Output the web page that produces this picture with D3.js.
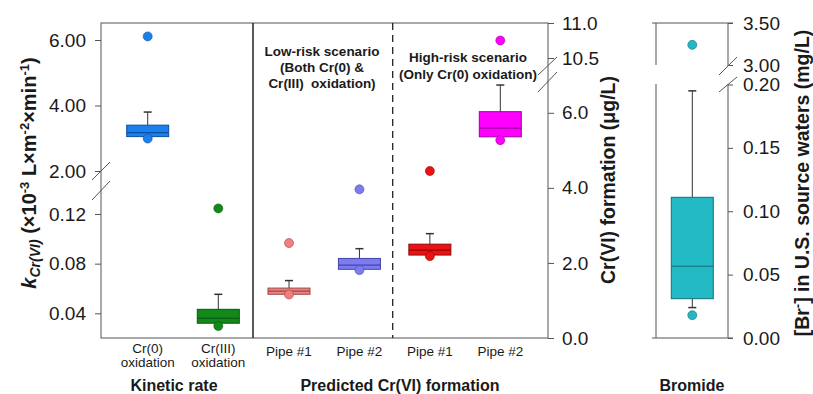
<!DOCTYPE html>
<html>
<head>
<meta charset="utf-8">
<script src="https://cdn.jsdelivr.net/npm/d3@7"></script>
<style>
  body { margin: 0; background: #fff; }
  svg text { font-family: "Liberation Sans", Arial, sans-serif; fill: #1a1a1a; }
</style>
</head>
<body>
<div id="chart"></div>
<script>
// kinetic rate panel (x10^-3 L m^-2 min^-1)
var kinCats = ["Cr(0) oxidation", "Cr(III) oxidation"];
var kinLabels = [["Cr(0)", "oxidation"], ["Cr(III)", "oxidation"]];
var kinWhiskLo = [3.05, 0.032];
var kinQ1 = [3.05, 0.032];
var kinMed = [3.17, 0.036];
var kinQ3 = [3.40, 0.0432];
var kinWhiskHi = [3.80, 0.0553];
var kinOutliers = [[6.11, 2.99], [0.1245, 0.0298]];

// predicted Cr(VI) formation panel (ug/L)
var pipeCats = ["low1", "low2", "high1", "high2"];
var pipeLabels = ["Pipe #1", "Pipe #2", "Pipe #1", "Pipe #2"];
var pipeWhiskLo = [1.165, 1.83, 2.21, 5.36];
var pipeQ1 = [1.165, 1.83, 2.21, 5.36];
var pipeMed = [1.25, 1.94, 2.34, 5.59];
var pipeQ3 = [1.33, 2.12, 2.50, 6.03];
var pipeWhiskHi = [1.53, 2.38, 2.78, 6.74];
var pipeOutliers = [[2.53, 1.16], [3.96, 1.81], [4.45, 2.18], [10.75, 5.27]];

// bromide panel (mg/L)
var brWhiskLo = [0.024];
var brQ1 = [0.031];
var brMed = [0.0566];
var brQ3 = [0.111];
var brWhiskHi = [0.195];
var brOutliers = [[3.24, 0.018]];

// tick labels
var kinTicksHi = [2, 4, 6], kinTicksLo = [0.04, 0.08, 0.12];
var pipeTicksLo = [0, 2, 4, 6], pipeTicksHi = [10.5, 11];
var brTicksLo = [0, 0.05, 0.10, 0.15, 0.20], brTicksHi = [3.0, 3.5];

var kinFill = ["#1a80ee", "#128a1a"], kinStroke = ["#0e4f9c", "#0a5210"];
var pipeFill = ["#f08080", "#7c7cf0", "#ee1111", "#ff00ff"];
var pipeStroke = ["#9c4848", "#4444a8", "#8c0a0a", "#a000a0"];
var brFill = ["#22b9c4"], brStroke = ["#146f78"];

function init(){
    var w = 813, h = 394;
    var top = 23, bottom = 338;
    var boxW = 42, capW = 8, r = 4.5;

    var svg = d3.select("#chart").append("svg")
        .attr("width", w).attr("height", h);

    // broken y scales: each panel has an upper and a lower piece
    var yKhi = d3.scaleLinear().domain([2, 6]).range([171, 40]);
    var yKlo = d3.scaleLinear().domain([0.04, 0.12]).range([313.3, 214]);
    var yK = function(v){ return v >= 1 ? yKhi(v) : yKlo(v); };

    var yPlo = d3.scaleLinear().domain([0, 6]).range([bottom, 112.8]);
    var yPhi = d3.scaleLinear().domain([10.5, 11]).range([58, top]);
    var yP = function(v){ return v > 8 ? yPhi(v) : yPlo(v); };

    var yBlo = d3.scaleLinear().domain([0, 0.2]).range([bottom, 84.5]);
    var yBhi = d3.scaleLinear().domain([3, 3.5]).range([65, top]);
    var yB = function(v){ return v > 1 ? yBhi(v) : yBlo(v); };

    var xK = d3.scalePoint().domain(kinCats).range([147.7, 218.3]);
    var xP = d3.scalePoint().domain(pipeCats).range([289, 500.3]);
    var xB = d3.scalePoint().domain(["Bromide"]).range([692.3, 692.3]);

    // frames
    svg.append("rect").attr("x", 101).attr("y", top)
        .attr("width", 548 - 101).attr("height", bottom - top)
        .attr("fill", "none").attr("stroke", "#555").attr("stroke-width", 1);
    svg.append("line").attr("x1", 253).attr("x2", 253).attr("y1", top).attr("y2", bottom)
        .attr("stroke", "#222").attr("stroke-width", 1.5);
    svg.append("line").attr("x1", 392.7).attr("x2", 392.7).attr("y1", top).attr("y2", bottom)
        .attr("stroke", "#222").attr("stroke-width", 1.3).attr("stroke-dasharray", "7,5");

    // bromide frame (gap at the break)
    var brFrame = [[652, top, 733, top], [652, bottom, 733, bottom],
                   [656, top, 656, 65], [656, 84, 656, bottom],
                   [728, top, 728, 66], [728, 84, 728, bottom]];
    svg.selectAll(".brframe").data(brFrame).enter().append("line")
        .attr("x1", function(d){ return d[0]; }).attr("y1", function(d){ return d[1]; })
        .attr("x2", function(d){ return d[2]; }).attr("y2", function(d){ return d[3]; })
        .attr("stroke", "#555").attr("stroke-width", 1);

    // axes
    function styleAxis(g){
        g.select(".domain").remove();
        g.selectAll(".tick line").attr("stroke", "#555");
        g.selectAll(".tick text").style("font-size", "19px").attr("fill", "#1a1a1a");
    }
    var f2 = d3.format(".2f"), f1 = d3.format(".1f");
    svg.append("g").attr("transform", "translate(101,0)")
        .call(d3.axisLeft(yKhi).tickValues(kinTicksHi).tickFormat(f2).tickSize(6).tickPadding(9)).call(styleAxis);
    svg.append("g").attr("transform", "translate(101,0)")
        .call(d3.axisLeft(yKlo).tickValues(kinTicksLo).tickFormat(f2).tickSize(6).tickPadding(9)).call(styleAxis);
    svg.append("g").attr("transform", "translate(548,0)")
        .call(d3.axisRight(yPlo).tickValues(pipeTicksLo).tickFormat(f1).tickSize(6).tickPadding(8)).call(styleAxis);
    svg.append("g").attr("transform", "translate(548,0)")
        .call(d3.axisRight(yPhi).tickValues(pipeTicksHi).tickFormat(f1).tickSize(6).tickPadding(8)).call(styleAxis);
    svg.append("g").attr("transform", "translate(728,0)")
        .call(d3.axisRight(yBlo).tickValues(brTicksLo).tickFormat(f2).tickSize(5).tickPadding(10)).call(styleAxis);
    svg.append("g").attr("transform", "translate(728,0)")
        .call(d3.axisRight(yBhi).tickValues(brTicksHi).tickFormat(f2).tickSize(5).tickPadding(10)).call(styleAxis);

    // break marks
    var slashes = [[92, 180, 110, 162], [92, 200, 110, 181],
                   [538, 75, 557, 57], [538, 92, 557, 72],
                   [719, 75, 737, 57], [719, 92, 737, 77]];
    svg.selectAll(".slash").data(slashes).enter().append("line")
        .attr("x1", function(d){ return d[0]; }).attr("y1", function(d){ return d[1]; })
        .attr("x2", function(d){ return d[2]; }).attr("y2", function(d){ return d[3]; })
        .attr("stroke", "#555").attr("stroke-width", 1);

    // generic box drawer
    function drawBoxes(cats, x, y, lo, q1, med, q3, hi, outs, fill, stroke){
        var g = svg.append("g");
        cats.forEach(function(c, i){
            var cx = x(c);
            g.append("line").attr("x1", cx).attr("x2", cx)
                .attr("y1", y(q3[i])).attr("y2", y(hi[i])).attr("stroke", "#333");
            g.append("line").attr("x1", cx - capW / 2).attr("x2", cx + capW / 2)
                .attr("y1", y(hi[i])).attr("y2", y(hi[i])).attr("stroke", "#333").attr("stroke-width", 1.5);
            if (lo[i] < q1[i]) {
                g.append("line").attr("x1", cx).attr("x2", cx)
                    .attr("y1", y(q1[i])).attr("y2", y(lo[i])).attr("stroke", "#333");
                g.append("line").attr("x1", cx - capW / 2).attr("x2", cx + capW / 2)
                    .attr("y1", y(lo[i])).attr("y2", y(lo[i])).attr("stroke", "#333").attr("stroke-width", 1.5);
            }
            g.append("rect").attr("x", cx - boxW / 2).attr("y", y(q3[i]))
                .attr("width", boxW).attr("height", y(q1[i]) - y(q3[i]))
                .attr("fill", fill[i]).attr("stroke", stroke[i]).attr("stroke-width", 1);
            g.append("line").attr("x1", cx - boxW / 2).attr("x2", cx + boxW / 2)
                .attr("y1", y(med[i])).attr("y2", y(med[i])).attr("stroke", stroke[i]).attr("stroke-width", 1.2);
            g.selectAll(null).data(outs[i]).enter().append("circle")
                .attr("cx", cx).attr("cy", function(d){ return y(d); }).attr("r", r)
                .attr("fill", fill[i]).attr("stroke", stroke[i]).attr("stroke-width", 0.6);
        });
    }
    drawBoxes(kinCats, xK, yK, kinWhiskLo, kinQ1, kinMed, kinQ3, kinWhiskHi, kinOutliers, kinFill, kinStroke);
    drawBoxes(pipeCats, xP, yP, pipeWhiskLo, pipeQ1, pipeMed, pipeQ3, pipeWhiskHi, pipeOutliers, pipeFill, pipeStroke);
    drawBoxes(["Bromide"], xB, yB, brWhiskLo, brQ1, brMed, brQ3, brWhiskHi, brOutliers, brFill, brStroke);

    // category labels
    kinCats.forEach(function(c, i){
        svg.append("text").attr("x", xK(c)).attr("y", 353).attr("text-anchor", "middle")
            .style("font-size", "13.5px").text(kinLabels[i][0]);
        svg.append("text").attr("x", xK(c)).attr("y", 367).attr("text-anchor", "middle")
            .style("font-size", "13.5px").text(kinLabels[i][1]);
    });
    pipeCats.forEach(function(c, i){
        svg.append("text").attr("x", xP(c)).attr("y", 356).attr("text-anchor", "middle")
            .style("font-size", "13.5px").text(pipeLabels[i]);
    });

    // panel titles
    var titles = [["Kinetic rate", 174, 391], ["Predicted Cr(VI) formation", 400, 391], ["Bromide", 692, 391]];
    titles.forEach(function(t){
        svg.append("text").attr("x", t[1]).attr("y", t[2]).attr("text-anchor", "middle")
            .style("font-size", "16px").style("font-weight", "bold").text(t[0]);
    });

    // scenario annotations
    var lowTxt = ["Low-risk scenario", "(Both Cr(0) &", "Cr(III)  oxidation)"];
    var highTxt = ["High-risk scenario", "(Only Cr(0) oxidation)"];
    lowTxt.forEach(function(s, i){
        svg.append("text").attr("x", 322).attr("y", 56 + i * 16).attr("text-anchor", "middle")
            .style("font-size", "13.5px").style("font-weight", "bold").style("white-space", "pre")
            .attr("xml:space", "preserve").text(s);
    });
    highTxt.forEach(function(s, i){
        svg.append("text").attr("x", 468).attr("y", 62 + i * 17).attr("text-anchor", "middle")
            .style("font-size", "13.5px").style("font-weight", "bold").text(s);
    });

    // y axis titles
    var lt = svg.append("text").attr("transform", "translate(36,173) rotate(-90)")
        .attr("text-anchor", "middle").style("font-size", "20px").style("font-weight", "bold");
    lt.append("tspan").style("font-style", "italic").text("k");
    lt.append("tspan").style("font-style", "italic").style("font-size", "14px")
        .attr("baseline-shift", "-25%").text("Cr(VI)");
    lt.append("tspan").text(" (\u00d710");
    lt.append("tspan").style("font-size", "13px").attr("baseline-shift", "super").text("-3");
    lt.append("tspan").text(" L\u00d7m");
    lt.append("tspan").style("font-size", "13px").attr("baseline-shift", "super").text("-2");
    lt.append("tspan").text("\u00d7min");
    lt.append("tspan").style("font-size", "13px").attr("baseline-shift", "super").text("-1");
    lt.append("tspan").text(")");

    svg.append("text").attr("transform", "translate(615,180) rotate(-90)")
        .attr("text-anchor", "middle").style("font-size", "19.5px").style("font-weight", "bold")
        .text("Cr(VI) formation (\u03bcg/L)");

    var rt = svg.append("text").attr("transform", "translate(809,183) rotate(-90)")
        .attr("text-anchor", "middle").style("font-size", "19.5px").style("font-weight", "bold");
    rt.append("tspan").text("[Br");
    rt.append("tspan").style("font-size", "13px").attr("baseline-shift", "super").text("-");
    rt.append("tspan").text("] in U.S. source waters (mg/L)");
}
window.onload = init;
</script>
</body>
</html>
